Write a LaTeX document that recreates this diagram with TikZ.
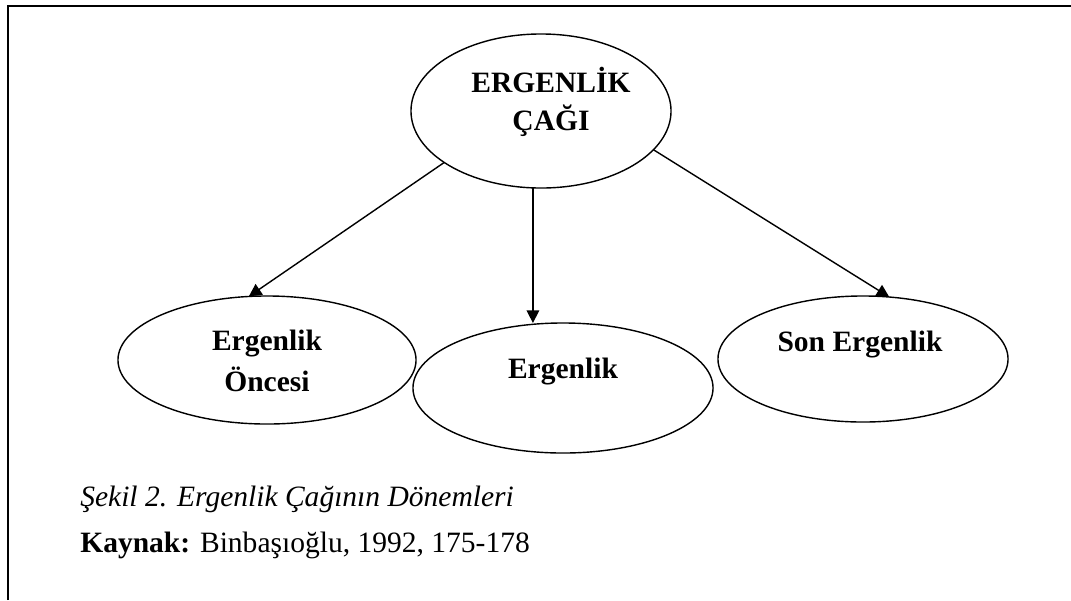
\documentclass[tikz,border=0pt]{standalone}
\usepackage{fontspec}
\setmainfont{Liberation Serif}
\usetikzlibrary{shapes.geometric,arrows.meta}
\tikzset{
	donem/.style={draw, ellipse, line width=1pt, inner sep=0pt, outer sep=0pt},
	etiket/.style={font=\fontsize{21}{27}\selectfont\bfseries, align=center, anchor=base, inner sep=0pt},
	altyazi/.style={font=\fontsize{21}{24}\selectfont, anchor=base west, inner sep=0pt},
	ok/.style={-{Triangle[length=9pt,width=9pt]}, line width=1pt}
}
\begin{document}
\begin{tikzpicture}[x=0.025cm,y=-0.025cm]
	\useasboundingbox (0,0) rectangle (1071,600);
	\draw[line width=1.5pt] (8,600) -- (8,6) -- (1071,6);						% Cerceve
	
	% Elipsler
	\node[donem, minimum width=6.5cm, minimum height=3.85cm] (cag) at (541,111) {};		% Ergenlik cagi
	\node[donem, minimum width=7.45cm, minimum height=3.2cm] (once) at (267,360) {};	% Ergenlik oncesi
	\node[donem, minimum width=7.5cm, minimum height=3.25cm] (orta) at (563,388) {};	% Ergenlik
	\node[donem, minimum width=7.25cm, minimum height=3.15cm] (son) at (863,359) {};	% Son ergenlik
	
	% Yazilar
	\node[etiket] (cagyazi) at (551,130) {ERGENLİK\\ÇAĞI};
	\node[etiket] (onceyazi) at (267,391) {Ergenlik\\[1.5pt]Öncesi};
	\node[etiket] (ortayazi) at (563,378) {Ergenlik};
	\node[etiket] (sonyazi) at (860,351) {Son Ergenlik};
	
	% Oklar
	\draw[ok] (cag.208) -- (once.106);
	\draw[ok] (cag.264) -- (cag.264 |- orta.north);
	\draw[ok] (cag.341) -- (son.67);
	
	% Sekil adi ve kaynak
	\node[altyazi, font=\fontsize{21}{24}\selectfont\itshape] (sekil) at (80,506) {Şekil 2. Ergenlik Çağının Dönemleri};
	\node[altyazi] (kaynak) at (80,552) {\textbf{Kaynak:} Binbaşıoğlu, 1992, 175-178};
\end{tikzpicture}
\end{document}
